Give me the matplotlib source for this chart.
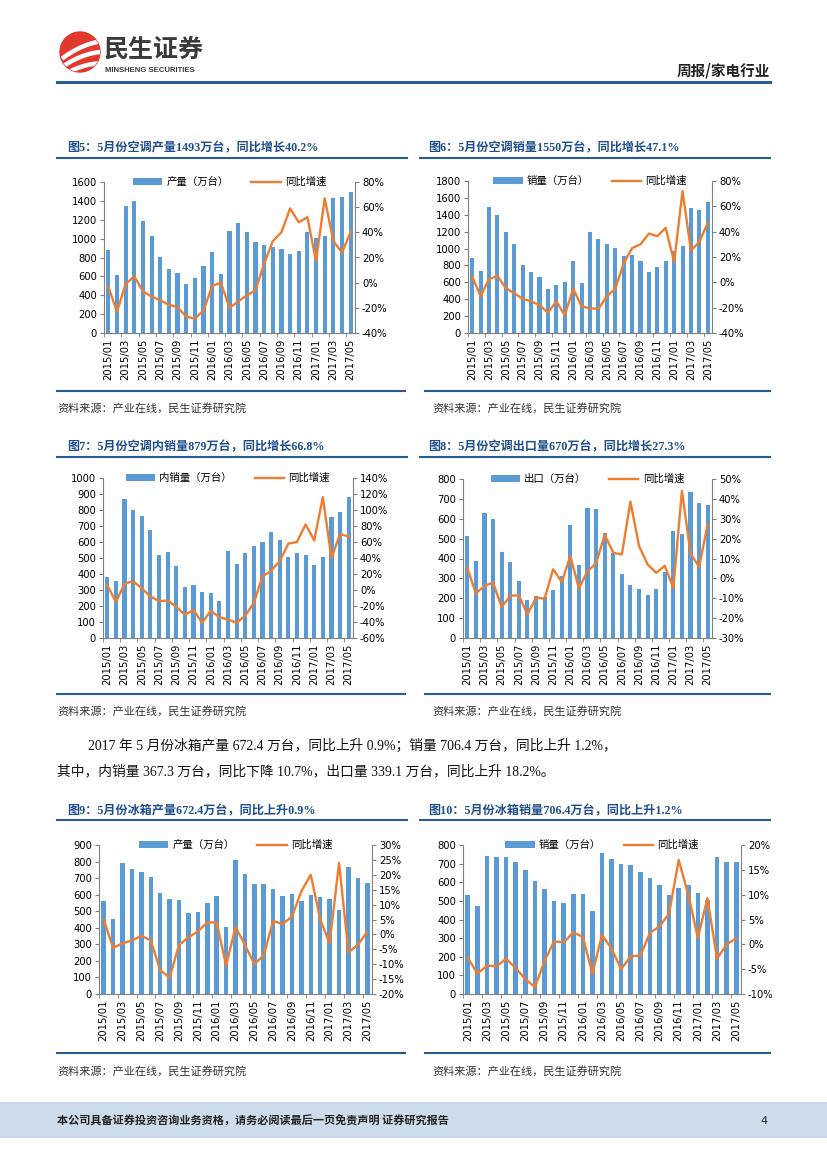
import numpy as np
import matplotlib
matplotlib.use('Agg')
import matplotlib.pyplot as plt
from matplotlib.patches import Circle, Rectangle, Patch
from matplotlib.lines import Line2D
from matplotlib.ticker import FuncFormatter

plt.rcParams['font.family'] = ['DejaVu Sans', 'Noto Sans CJK SC']
plt.rcParams['axes.unicode_minus'] = False

# ---- data ----
months = ['2015/01', '2015/02', '2015/03', '2015/04', '2015/05', '2015/06', '2015/07', '2015/08',
          '2015/09', '2015/10', '2015/11', '2015/12', '2016/01', '2016/02', '2016/03', '2016/04',
          '2016/05', '2016/06', '2016/07', '2016/08', '2016/09', '2016/10', '2016/11', '2016/12',
          '2017/01', '2017/02', '2017/03', '2017/04', '2017/05']

ac_prod = [876, 618, 1350, 1396, 1191, 1032, 809, 682, 640, 523, 587, 707, 855, 622, 1078,
           1170, 1067, 961, 933, 908, 894, 834, 866, 1067, 1004, 1032, 1431, 1445, 1493]
ac_prod_yoy = [-3.4, -23, -1, 5, -7, -11, -14, -17.5, -19.5, -27, -28.6, -22, -2.6, 0, -20,
               -15, -10, -6, 15, 33, 40, 59, 48, 52, 17, 67, 33, 24, 40.2]

ac_sales = [884, 735, 1490, 1395, 1191, 1053, 802, 727, 660, 519, 570, 601, 849, 597, 1191,
            1108, 1053, 1002, 916, 924, 857, 719, 778, 853, 970, 1026, 1482, 1462, 1550]
ac_sales_yoy = [4.5, -11, 2.6, 5, -4.7, -8.6, -13, -15, -18, -24, -15, -26, -5, -19, -20.5,
                -21, -11, -5, 15, 27, 30, 38.5, 36.4, 43, 16, 72, 25, 32, 47.1]

ac_dom = [379, 354, 870, 799, 762, 678, 519, 538, 450, 318, 331, 287, 282, 234, 542,
          462, 529, 575, 600, 661, 615, 506, 531, 521, 456, 504, 755, 787, 879]
ac_dom_yoy = [6, -15, 8, 11, 2, -8, -14, -13, -21, -31, -25, -41, -26, -34, -37,
              -41, -32, -16, 17, 24, 36, 58, 60, 82, 62, 116, 40, 70, 66.8]

ac_exp = [511, 385, 627, 600, 434, 382, 286, 193, 212, 207, 240, 314, 568, 366, 652,
          647, 528, 430, 320, 266, 245, 215, 247, 333, 538, 524, 733, 679, 670]
ac_exp_yoy = [5.3, -7.6, -3.8, -2.1, -14.4, -8.8, -8.5, -18.2, -9.7, -10.2, 4.6, -1.8, 11.2, -5.1, 3.6,
              7.5, 22, 12.9, 12, 38.6, 16.4, 7, 2.8, 6.3, -4.8, 44, 12.5, 5.8, 27.3]

fr_prod = [562, 454, 789, 753, 735, 709, 608, 572, 570, 488, 494, 548, 589, 406, 812,
           725, 665, 663, 637, 593, 605, 560, 597, 585, 572, 506, 765, 699, 672.4]
fr_prod_yoy = [5, -4.5, -3, -2, -0.5, -2, -12, -14.5, -3.5, -1, 1, 4, 4, -10.5, 2.5,
               -3.5, -10, -7, 4.5, 3.5, 6, 14.5, 20, 5, -3, 24, -6, -3.5, 0.9]

fr_sales = [529, 470, 743, 733, 734, 708, 668, 606, 563, 499, 487, 535, 537, 444, 759,
            725, 697, 692, 654, 622, 585, 531, 569, 585, 542, 504, 734, 708, 706.4]
fr_sales_yoy = [-2.7, -5.9, -4.3, -4.4, -2.9, -4.8, -7, -8.6, -3.4, 0.6, 0.4, 2.4, 1.5, -5.9, 1.9,
                -0.9, -5, -2.4, -2.3, 2.3, 3.6, 6.2, 17, 10, 1.3, 9.3, -2.9, 0, 1.2]

BAR = '#5B9BD5'
LINE = '#ED7D31'
AXC = '#808080'
NAVY = '#2A5C94'
TITLE_C = '#1F4E8C'

W, H = 827, 1169
fig = plt.figure(figsize=(W / 100, H / 100), dpi=100)


def fx(x):
    return x / W


def fy(y):
    return 1 - y / H


def rect_px(l, t, r, b):
    return [l / W, 1 - b / H, (r - l) / W, (b - t) / H]


def hline(x0, x1, y, lw=1.5, color=NAVY):
    fig.add_artist(Line2D([fx(x0), fx(x1)], [fy(y), fy(y)], transform=fig.transFigure,
                          color=color, lw=lw))


def draw_chart(rect, bars, yoy, bar_name, lmax, lstep, rmin, rmax, rstep):
    ax = fig.add_axes(rect)
    x = np.arange(len(months))
    ax.bar(x, bars, width=0.48, color=BAR, zorder=2)
    ax.set_xlim(-0.5, len(months) - 0.5)
    ax.set_ylim(0, lmax)
    ax.set_yticks(np.arange(0, lmax + 1, lstep))
    ax.set_xticks(x[::2])
    ax.set_xticklabels(months[::2], rotation=90)
    ax.set_xticks(np.arange(-0.5, len(months), 2), minor=True)
    ax.tick_params(axis='x', which='major', length=0, pad=4, labelsize=7.2)
    ax.tick_params(axis='x', which='minor', length=3, color=AXC, direction='out')
    ax.tick_params(axis='y', length=3, color=AXC, pad=2, labelsize=7.2)
    ax.spines['top'].set_visible(False)
    ax.spines['right'].set_visible(False)
    for s in ['left', 'bottom']:
        ax.spines[s].set_color(AXC)
        ax.spines[s].set_linewidth(0.8)

    ax2 = ax.twinx()
    ax2.plot(x, yoy, color=LINE, lw=1.7, solid_joinstyle='round', zorder=3)
    ax2.set_ylim(rmin, rmax)
    ax2.set_yticks(np.arange(rmin, rmax + 0.01, rstep))
    ax2.yaxis.set_major_formatter(FuncFormatter(lambda v, p: f'{v:.0f}%'))
    ax2.tick_params(axis='y', length=3, color=AXC, pad=2, labelsize=7.2)
    for s in ['top', 'left', 'bottom']:
        ax2.spines[s].set_visible(False)
    ax2.spines['right'].set_color(AXC)
    ax2.spines['right'].set_linewidth(0.8)

    handles = [Patch(facecolor=BAR, edgecolor='none'), Line2D([0], [0], color=LINE, lw=1.7)]
    ax2.legend(handles, [bar_name, '同比增速'], loc='center', bbox_to_anchor=(0.5, 1.0),
               ncol=2, frameon=False, fontsize=7.5, handlelength=2.8, handleheight=0.6,
               columnspacing=2.2, handletextpad=0.4, borderaxespad=0, borderpad=0)
    return ax


# ---- header ----
lax = fig.add_axes(rect_px(59, 31, 101, 73))
lax.set_xlim(-1.05, 1.05)
lax.set_ylim(-1.05, 1.05)
lax.set_aspect('equal')
lax.axis('off')
circ = Circle((0, 0), 1, color='#E2392E')
lax.add_patch(circ)
t = np.linspace(0, 1, 50)
for off in [-0.45, 0.0, 0.42]:
    xs = -0.9 + 1.9 * t
    ys = -0.75 + off + 1.3 * t - 0.55 * t ** 2 + 0.25 * off * t
    ln, = lax.plot(xs, ys, color='white', lw=3.2, solid_capstyle='butt')
    ln.set_clip_path(circ)

fig.text(fx(104), fy(50), '民生证券', fontsize=18, fontweight='bold', color='#3a3a3a',
         family=['Noto Sans CJK SC'], va='center', ha='left')
fig.text(fx(105), fy(71), 'MINSHENG SECURITIES', fontsize=5.6, fontweight='bold', color='#3a3a3a',
         family=['Liberation Sans'], va='center', ha='left')
fig.text(fx(770), fy(70), '周报/家电行业', fontsize=10.5, fontweight='bold', color='#222222',
         family=['Noto Sans CJK SC'], va='center', ha='right')
hline(57, 770, 82, lw=2.2)

title_font = ['Liberation Serif', 'Noto Sans CJK SC']
src_text = '资料来源：产业在线，民生证券研究院'


def block_title(x, y, s):
    fig.text(fx(x), fy(y), s, fontsize=8.7, fontweight='bold', color=TITLE_C,
             family=title_font, va='center', ha='left')


def source(x, y):
    fig.text(fx(x), fy(y), src_text, fontsize=8.0, color='#333333',
             family=['Noto Sans CJK SC'], va='center', ha='left')


# ---- row 1 ----
block_title(67, 148, '图5：5月份空调产量1493万台，同比增长40.2%')
block_title(428, 148, '图6：5月份空调销量1550万台，同比增长47.1%')
hline(57, 407, 158)
hline(420, 770, 158)
draw_chart(rect_px(104, 182, 355, 333), ac_prod, ac_prod_yoy, '产量（万台）', 1600, 200, -40, 80, 20)
draw_chart(rect_px(468, 181, 712, 333), ac_sales, ac_sales_yoy, '销量（万台）', 1800, 200, -40, 80, 20)
hline(57, 405, 391)
hline(425, 770, 391)
source(57, 408)
source(432, 408)

# ---- row 2 ----
block_title(67, 447, '图7：5月份空调内销量879万台，同比增长66.8%')
block_title(428, 447, '图8：5月份空调出口量670万台，同比增长27.3%')
hline(57, 407, 457)
hline(420, 770, 457)
draw_chart(rect_px(103, 478, 353, 638), ac_dom, ac_dom_yoy, '内销量（万台）', 1000, 100, -60, 140, 20)
draw_chart(rect_px(463, 479, 712, 638), ac_exp, ac_exp_yoy, '出口（万台）', 800, 100, -30, 50, 10)
hline(57, 405, 694)
hline(425, 770, 694)
source(57, 711)
source(432, 711)

# ---- paragraph ----
para_font = ['Liberation Serif', 'Noto Sans CJK SC']
fig.text(fx(88), fy(746), '2017 年 5 月份冰箱产量 672.4 万台，同比上升 0.9%；销量 706.4 万台，同比上升 1.2%，',
         fontsize=9.9, color='#111111', family=para_font, va='center', ha='left')
fig.text(fx(57), fy(771), '其中，内销量 367.3 万台，同比下降 10.7%，出口量 339.1 万台，同比上升 18.2%。',
         fontsize=9.9, color='#111111', family=para_font, va='center', ha='left')

# ---- row 3 ----
block_title(67, 811, '图9：5月份冰箱产量672.4万台，同比上升0.9%')
block_title(428, 811, '图10：5月份冰箱销量706.4万台，同比上升1.2%')
hline(57, 407, 820)
hline(420, 770, 820)
draw_chart(rect_px(99, 845, 372, 994), fr_prod, fr_prod_yoy, '产量（万台）', 900, 100, -20, 30, 5)
draw_chart(rect_px(463, 845, 741, 994), fr_sales, fr_sales_yoy, '销量（万台）', 800, 100, -10, 20, 5)
hline(57, 405, 1053)
hline(425, 770, 1053)
source(57, 1071)
source(432, 1071)

# ---- footer ----
fig.add_artist(Rectangle((0, fy(1138)), 1, 36 / H, transform=fig.transFigure,
                         facecolor='#CDDCEA', edgecolor='none', zorder=0))
fig.text(fx(57), fy(1121), '本公司具备证券投资咨询业务资格，请务必阅读最后一页免责声明 证券研究报告',
         fontsize=8.0, fontweight='bold', color='#222222', family=['Noto Sans CJK SC'],
         va='center', ha='left')
fig.text(fx(768), fy(1121), '4', fontsize=8, color='#222222', va='center', ha='right')

fig.savefig('out.png', dpi=100)
